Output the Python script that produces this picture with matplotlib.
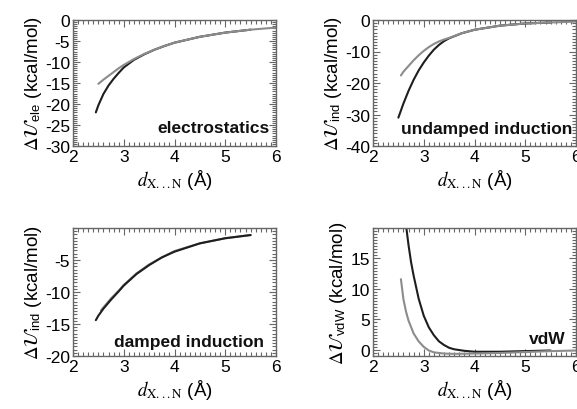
import matplotlib
matplotlib.use("Agg")
import matplotlib.pyplot as plt
from matplotlib.ticker import MultipleLocator

plt.rcParams["font.family"] = ["Liberation Sans", "DejaVu Sans"]
plt.rcParams["axes.unicode_minus"] = False

DARK = "#1e1e1e"
GRAY = "#8c8c8c"

# electrostatics
ele_dark_x = [2.45, 2.5, 2.6, 2.7, 2.8, 2.9, 3.0, 3.2, 3.4, 3.6, 3.8, 4.0, 4.5, 5.0, 5.5]
ele_dark_y = [-22.0, -20.3, -17.6, -15.6, -14.0, -12.6, -11.3, -9.5, -8.2, -7.1, -6.2, -5.4, -4.0, -3.0, -2.3]
ele_gray_x = [2.5, 2.6, 2.7, 2.8, 2.9, 3.0, 3.2, 3.4, 3.6, 3.8, 4.0, 4.5, 5.0, 5.5, 6.0]
ele_gray_y = [-15.2, -14.2, -13.3, -12.4, -11.5, -10.7, -9.3, -8.1, -7.1, -6.2, -5.4, -4.0, -3.0, -2.3, -1.8]

# undamped induction
und_dark_x = [2.5, 2.6, 2.7, 2.8, 2.9, 3.0, 3.1, 3.2, 3.3, 3.4, 3.5, 3.75, 4.0, 4.5, 5.0, 5.5]
und_dark_y = [-31.0, -26.5, -22.5, -19.0, -16.0, -13.5, -11.3, -9.4, -7.9, -6.7, -5.8, -4.2, -3.1, -1.8, -1.1, -0.8]
und_gray_x = [2.55, 2.6, 2.7, 2.8, 2.9, 3.0, 3.1, 3.2, 3.3, 3.4, 3.5, 3.75, 4.0, 4.5, 5.0, 5.5, 6.0]
und_gray_y = [-17.6, -16.4, -14.6, -12.8, -11.2, -9.8, -8.6, -7.6, -6.8, -6.2, -5.7, -4.2, -3.1, -1.8, -1.1, -0.8, -0.5]

# damped induction
dmp_dark_x = [2.45, 2.5, 2.6, 2.75, 2.9, 3.0, 3.25, 3.5, 3.75, 4.0, 4.5, 5.0, 5.5]
dmp_dark_y = [-14.4, -13.7, -12.6, -11.2, -9.9, -9.0, -7.2, -5.8, -4.6, -3.7, -2.4, -1.6, -1.1]
dmp_gray_x = [2.55, 2.6, 2.75, 2.9, 3.0, 3.25, 3.5, 3.75, 4.0, 4.5, 5.0, 5.5]
dmp_gray_y = [-12.9, -12.4, -11.0, -9.8, -8.9, -7.1, -5.7, -4.6, -3.6, -2.4, -1.6, -1.1]

# van der Waals
vdw_dark_x = [2.65, 2.7, 2.75, 2.8, 2.9, 3.0, 3.1, 3.2, 3.3, 3.4, 3.5, 3.6, 3.8, 4.0, 4.5, 5.0, 5.5]
vdw_dark_y = [20.5, 17.2, 14.4, 12.2, 8.4, 5.6, 3.7, 2.4, 1.4, 0.8, 0.35, 0.1, -0.15, -0.3, -0.3, -0.2, -0.1]
vdw_gray_x = [2.55, 2.6, 2.65, 2.7, 2.8, 2.9, 3.0, 3.1, 3.2, 3.4, 3.6, 4.0, 4.5, 5.0, 5.5, 6.0]
vdw_gray_y = [11.6, 8.3, 6.3, 4.8, 2.7, 1.4, 0.5, -0.1, -0.4, -0.6, -0.65, -0.6, -0.5, -0.35, -0.2, -0.1]

W, H = 577, 410


def rect(x0, y0, x1, y1):
    return [x0 / W, 1 - y1 / H, (x1 - x0) / W, (y1 - y0) / H]


fig = plt.figure(figsize=(W / 100, H / 100), dpi=100, facecolor="white")


def panel(r, dark, gray, ylim, yticks, yminor, sub, tag, tag_xy, gray_on_top=True):
    ax = fig.add_axes(rect(*r))
    if gray_on_top:
        ax.plot(*dark, color=DARK, lw=1.5, solid_capstyle="round")
        ax.plot(*gray, color=GRAY, lw=1.5, solid_capstyle="round")
    else:
        ax.plot(*gray, color=GRAY, lw=1.5, solid_capstyle="round")
        ax.plot(*dark, color=DARK, lw=1.5, solid_capstyle="round")
    ax.set_xlim(2, 6)
    ax.set_ylim(*ylim)
    ax.set_xticks([2, 3, 4, 5, 6])
    ax.set_yticks(yticks)
    ax.xaxis.set_minor_locator(MultipleLocator(0.1))
    ax.yaxis.set_minor_locator(MultipleLocator(yminor))
    ax.tick_params(which="both", direction="in", top=True, right=True,
                   color="#666", width=0.8, labelsize=12.5, pad=2)
    ax.tick_params(which="major", length=5)
    ax.tick_params(which="minor", length=3)
    for s in ax.spines.values():
        s.set_color("#666")
        s.set_linewidth(1.0)
    ax.set_xlabel(r"$d_{\mathrm{X...N}}$ (Å)", fontsize=13.5, labelpad=2,
                  math_fontfamily="stix")
    ax.set_ylabel(r"$\Delta\mathcal{U}_{\mathregular{%s}}$ (kcal/mol)" % sub,
                  fontsize=13.5, labelpad=1, math_fontfamily="stix")
    ax.text(tag_xy[0], tag_xy[1], tag, transform=ax.transAxes, ha="right",
            va="center", fontsize=12.5, fontweight="bold", color="#111")
    return ax


panel((73, 21, 276, 147), (ele_dark_x, ele_dark_y), (ele_gray_x, ele_gray_y),
      (-30, 0), [-30, -25, -20, -15, -10, -5, 0], 0.5, "ele",
      "electrostatics", (0.97, 0.15))
panel((373, 21, 576, 147), (und_dark_x, und_dark_y), (und_gray_x, und_gray_y),
      (-40, 0), [-40, -30, -20, -10, 0], 1, "ind",
      "undamped induction", (0.98, 0.14))
panel((73, 229, 276, 357), (dmp_dark_x, dmp_dark_y), (dmp_gray_x, dmp_gray_y),
      (-20, 0), [-20, -15, -10, -5], 0.5, "ind",
      "damped induction", (0.94, 0.11), gray_on_top=False)
panel((373, 229, 576, 357), (vdw_dark_x, vdw_dark_y), (vdw_gray_x, vdw_gray_y),
      (-1, 20), [0, 5, 10, 15], 0.5, "vdW",
      "vdW", (0.95, 0.14))

fig.savefig("out.png", dpi=100, facecolor="white")
